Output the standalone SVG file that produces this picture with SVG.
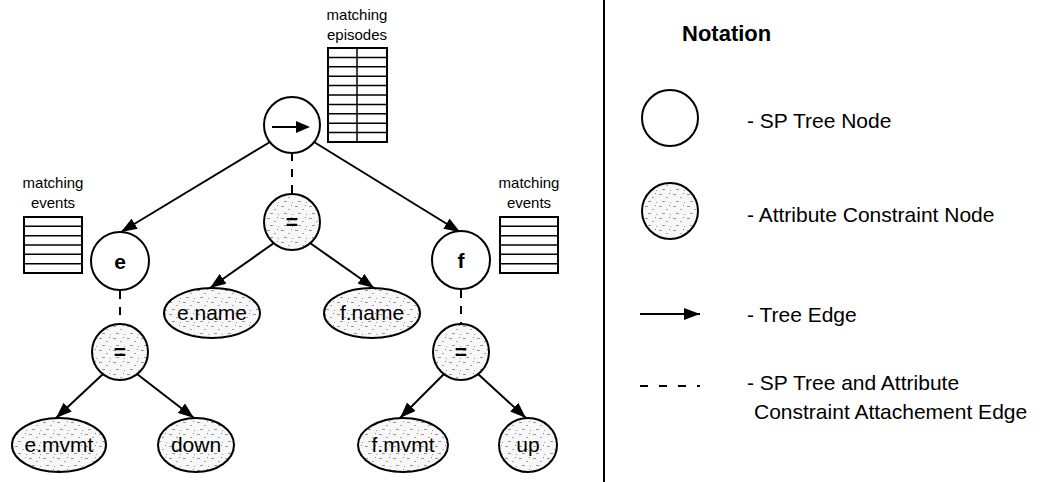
<svg xmlns="http://www.w3.org/2000/svg" width="1043" height="482" viewBox="0 0 1043 482">
<style>
.t{font-family:"Liberation Sans",Arial,sans-serif;fill:#000}
.lbl{font-size:21px;text-anchor:middle}
.bold{font-weight:bold}
.cap{font-size:15px;text-anchor:middle}
.leg{font-size:21px}
.node{fill:#fff;stroke:#000;stroke-width:2}
.attr{fill:url(#stip);stroke:#000;stroke-width:2}
.edge{stroke:#000;stroke-width:2;fill:none}
.dash{stroke:#000;stroke-width:2;stroke-dasharray:8 8;fill:none}
.tbl{fill:#fff;stroke:#000;stroke-width:2}
.row{stroke:#000;stroke-width:1.5}
</style>
<defs>
<pattern id="stip" width="14" height="12" patternUnits="userSpaceOnUse">
<rect width="14" height="12" fill="#f7f7f7"/>
<rect x="1" y="2" width="3" height="1" fill="#999"/>
<rect x="8" y="5" width="2" height="1" fill="#aaa"/>
<rect x="4" y="9" width="3" height="1" fill="#999"/>
<rect x="11" y="1" width="1" height="1" fill="#888"/>
<rect x="12" y="10" width="1" height="1" fill="#999"/>
</pattern>
<marker id="arr" viewBox="0 0 16 12" markerWidth="16" markerHeight="12" refX="16" refY="6" orient="auto" markerUnits="userSpaceOnUse">
<path d="M0,0 L16,6 L0,12 z" fill="#000"/>
</marker>
</defs>

<g id="connectors">
<line class="edge" x1="270" y1="142" x2="121" y2="232" marker-end="url(#arr)"/>
<line class="edge" x1="314" y1="142" x2="460" y2="232" marker-end="url(#arr)"/>
<line class="dash" x1="292" y1="153" x2="292" y2="194"/>
<line class="edge" x1="274" y1="243" x2="210" y2="288" marker-end="url(#arr)"/>
<line class="edge" x1="310" y1="243" x2="374" y2="288" marker-end="url(#arr)"/>
<line class="dash" x1="120" y1="291" x2="120" y2="323"/>
<line class="edge" x1="103" y1="374" x2="56" y2="418" marker-end="url(#arr)"/>
<line class="edge" x1="137" y1="374" x2="194" y2="418" marker-end="url(#arr)"/>
<line class="dash" x1="461" y1="290" x2="461" y2="324"/>
<line class="edge" x1="444" y1="374" x2="400" y2="418" marker-end="url(#arr)"/>
<line class="edge" x1="478" y1="374" x2="526" y2="418" marker-end="url(#arr)"/>
</g>

<g id="episodes-table">
<text class="t cap" x="357" y="20">matching</text>
<text class="t cap" x="357" y="40">episodes</text>
<rect class="tbl" x="328" y="48" width="59" height="94"/>
<line class="row" x1="357" y1="48" x2="357" y2="142"/>
<line class="row" x1="328" y1="57.4" x2="387" y2="57.4"/>
<line class="row" x1="328" y1="66.8" x2="387" y2="66.8"/>
<line class="row" x1="328" y1="76.2" x2="387" y2="76.2"/>
<line class="row" x1="328" y1="85.6" x2="387" y2="85.6"/>
<line class="row" x1="328" y1="95" x2="387" y2="95"/>
<line class="row" x1="328" y1="104.4" x2="387" y2="104.4"/>
<line class="row" x1="328" y1="113.8" x2="387" y2="113.8"/>
<line class="row" x1="328" y1="123.2" x2="387" y2="123.2"/>
<line class="row" x1="328" y1="132.6" x2="387" y2="132.6"/>
</g>

<g id="e-table">
<text class="t cap" x="53" y="188">matching</text>
<text class="t cap" x="53" y="208">events</text>
<rect class="tbl" x="24" y="217" width="58" height="56"/>
<line class="row" x1="24" y1="226.3" x2="82" y2="226.3"/>
<line class="row" x1="24" y1="235.7" x2="82" y2="235.7"/>
<line class="row" x1="24" y1="245" x2="82" y2="245"/>
<line class="row" x1="24" y1="254.3" x2="82" y2="254.3"/>
<line class="row" x1="24" y1="263.7" x2="82" y2="263.7"/>
</g>

<g id="f-table">
<text class="t cap" x="529" y="188">matching</text>
<text class="t cap" x="529" y="208">events</text>
<rect class="tbl" x="500" y="217" width="58" height="56"/>
<line class="row" x1="500" y1="226.3" x2="558" y2="226.3"/>
<line class="row" x1="500" y1="235.7" x2="558" y2="235.7"/>
<line class="row" x1="500" y1="245" x2="558" y2="245"/>
<line class="row" x1="500" y1="254.3" x2="558" y2="254.3"/>
<line class="row" x1="500" y1="263.7" x2="558" y2="263.7"/>
</g>

<g id="root">
<circle class="node" cx="292" cy="125" r="28"/>
<line class="edge" x1="272" y1="127" x2="296" y2="127"/>
<path d="M296,121 L310,127 L296,133 z" fill="#000"/>
</g>

<g id="node-e">
<circle class="node" cx="120" cy="261" r="29"/>
<text class="t lbl bold" x="120" y="269">e</text>
</g>

<g id="node-f">
<circle class="node" cx="461" cy="260" r="29"/>
<text class="t lbl bold" x="461" y="268">f</text>
</g>

<g id="eq-mid">
<circle class="attr" cx="292" cy="222" r="28"/>
<text class="t lbl bold" x="292" y="229">=</text>
</g>

<g id="e-name">
<ellipse class="attr" cx="212" cy="313" rx="48" ry="25"/>
<text class="t lbl" x="212" y="320">e.name</text>
</g>

<g id="f-name">
<ellipse class="attr" cx="372" cy="313" rx="48" ry="25"/>
<text class="t lbl" x="372" y="320">f.name</text>
</g>

<g id="eq-e">
<circle class="attr" cx="120" cy="352" r="28"/>
<text class="t lbl bold" x="120" y="359">=</text>
</g>

<g id="eq-f">
<circle class="attr" cx="461" cy="352" r="28"/>
<text class="t lbl bold" x="461" y="359">=</text>
</g>

<g id="e-mvmt">
<ellipse class="attr" cx="59" cy="445" rx="47" ry="27"/>
<text class="t lbl" x="59" y="452">e.mvmt</text>
</g>

<g id="down">
<ellipse class="attr" cx="196" cy="445" rx="38" ry="27"/>
<text class="t lbl" x="196" y="452">down</text>
</g>

<g id="f-mvmt">
<ellipse class="attr" cx="403" cy="445" rx="45" ry="27"/>
<text class="t lbl" x="403" y="452">f.mvmt</text>
</g>

<g id="up">
<ellipse class="attr" cx="528" cy="445" rx="29" ry="27"/>
<text class="t lbl" x="528" y="452">up</text>
</g>

<line x1="604" y1="0" x2="604" y2="482" stroke="#000" stroke-width="2"/>

<g id="legend">
<text class="t bold" x="682" y="41" font-size="22">Notation</text>
<circle class="node" cx="670" cy="118" r="28"/>
<text class="t leg" x="747" y="128">- SP Tree Node</text>
<circle class="attr" cx="670" cy="211" r="28"/>
<text class="t leg" x="747" y="222">- Attribute Constraint Node</text>
<line class="edge" x1="640" y1="314" x2="700" y2="314" marker-end="url(#arr)"/>
<text class="t leg" x="747" y="322">- Tree Edge</text>
<line x1="640" y1="386" x2="700" y2="386" stroke="#000" stroke-width="2" stroke-dasharray="8 11"/>
<text class="t leg" x="747" y="390">- SP Tree and Attribute</text>
<text class="t leg" x="754" y="419">Constraint Attachement Edge</text>
</g>
</svg>
